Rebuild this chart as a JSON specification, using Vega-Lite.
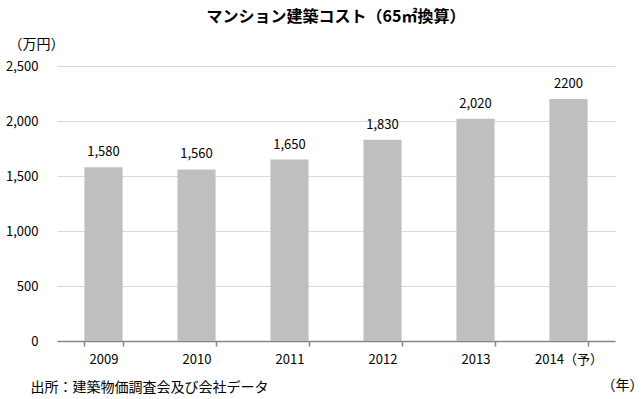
{
  "$schema": "https://vega.github.io/schema/vega-lite/v6.json",
  "width": 558,
  "height": 275,
  "autosize": {"type": "none"},
  "padding": {"left": 57, "top": 66, "right": 27, "bottom": 58},
  "config": {
    "view": {"stroke": null},
    "font": "Noto Sans CJK JP"
  },
  "title": {
    "text": "マンション建築コスト（65㎡換算）",
    "fontSize": 16,
    "fontWeight": "bold",
    "anchor": "middle",
    "offset": 12,
    "color": "#000000"
  },
  "data": {
    "values": [
      {"year": "2009", "value": 1580, "label": "1,580"},
      {"year": "2010", "value": 1560, "label": "1,560"},
      {"year": "2011", "value": 1650, "label": "1,650"},
      {"year": "2012", "value": 1830, "label": "1,830"},
      {"year": "2013", "value": 2020, "label": "2,020"},
      {"year": "2014（予）", "value": 2200, "label": "2200"}
    ]
  },
  "encoding": {
    "x": {
      "field": "year",
      "type": "ordinal",
      "sort": null,
      "scale": {"paddingInner": 0.59, "paddingOuter": 0.295}
    },
    "y": {
      "field": "value",
      "type": "quantitative",
      "scale": {"domain": [0, 2500]},
      "axis": {
        "values": [0, 500, 1000, 1500, 2000, 2500],
        "format": ",d",
        "title": "（万円）",
        "titleAngle": 0,
        "titleX": -49,
        "titleY": -22,
        "titleAlign": "left",
        "titleBaseline": "middle",
        "titleFontSize": 14,
        "titleFontWeight": "normal",
        "titleColor": "#000000",
        "domain": false,
        "ticks": false,
        "labelPadding": 19,
        "labelFontSize": 13,
        "labelColor": "#000000",
        "gridColor": "#d9d9d9",
        "gridWidth": 1
      }
    }
  },
  "layer": [
    {
      "mark": {"type": "bar", "color": "#bfbfbf"},
      "encoding": {
        "x": {
          "field": "year",
          "type": "ordinal",
          "sort": null,
          "axis": {
            "orient": "bottom",
            "labelAngle": 0,
            "labelFontSize": 13,
            "labelColor": "#000000",
            "labelPadding": 7,
            "domainColor": "#868686",
            "domainWidth": 1.5,
            "tickColor": "#868686",
            "tickWidth": 1.5,
            "tickSize": 5,
            "tickBand": "extent",
            "title": "（年）",
            "titleX": 565,
            "titleY": 44,
            "titleAlign": "center",
            "titleBaseline": "middle",
            "titleFontSize": 14,
            "titleFontWeight": "normal",
            "titleColor": "#000000"
          }
        }
      }
    },
    {
      "mark": {"type": "text", "baseline": "bottom", "dy": -8, "fontSize": 13, "color": "#000000"},
      "encoding": {
        "text": {"field": "label"},
        "x": {
          "field": "year",
          "type": "ordinal",
          "sort": null,
          "axis": {
            "orient": "bottom",
            "labels": false,
            "ticks": false,
            "domain": false,
            "title": "出所：建築物価調査会及び会社データ",
            "titleX": -27,
            "titleY": 46,
            "titleAlign": "left",
            "titleBaseline": "middle",
            "titleFontSize": 14,
            "titleFontWeight": "normal",
            "titleColor": "#000000"
          }
        }
      }
    }
  ],
  "resolve": {"axis": {"x": "independent"}}
}
